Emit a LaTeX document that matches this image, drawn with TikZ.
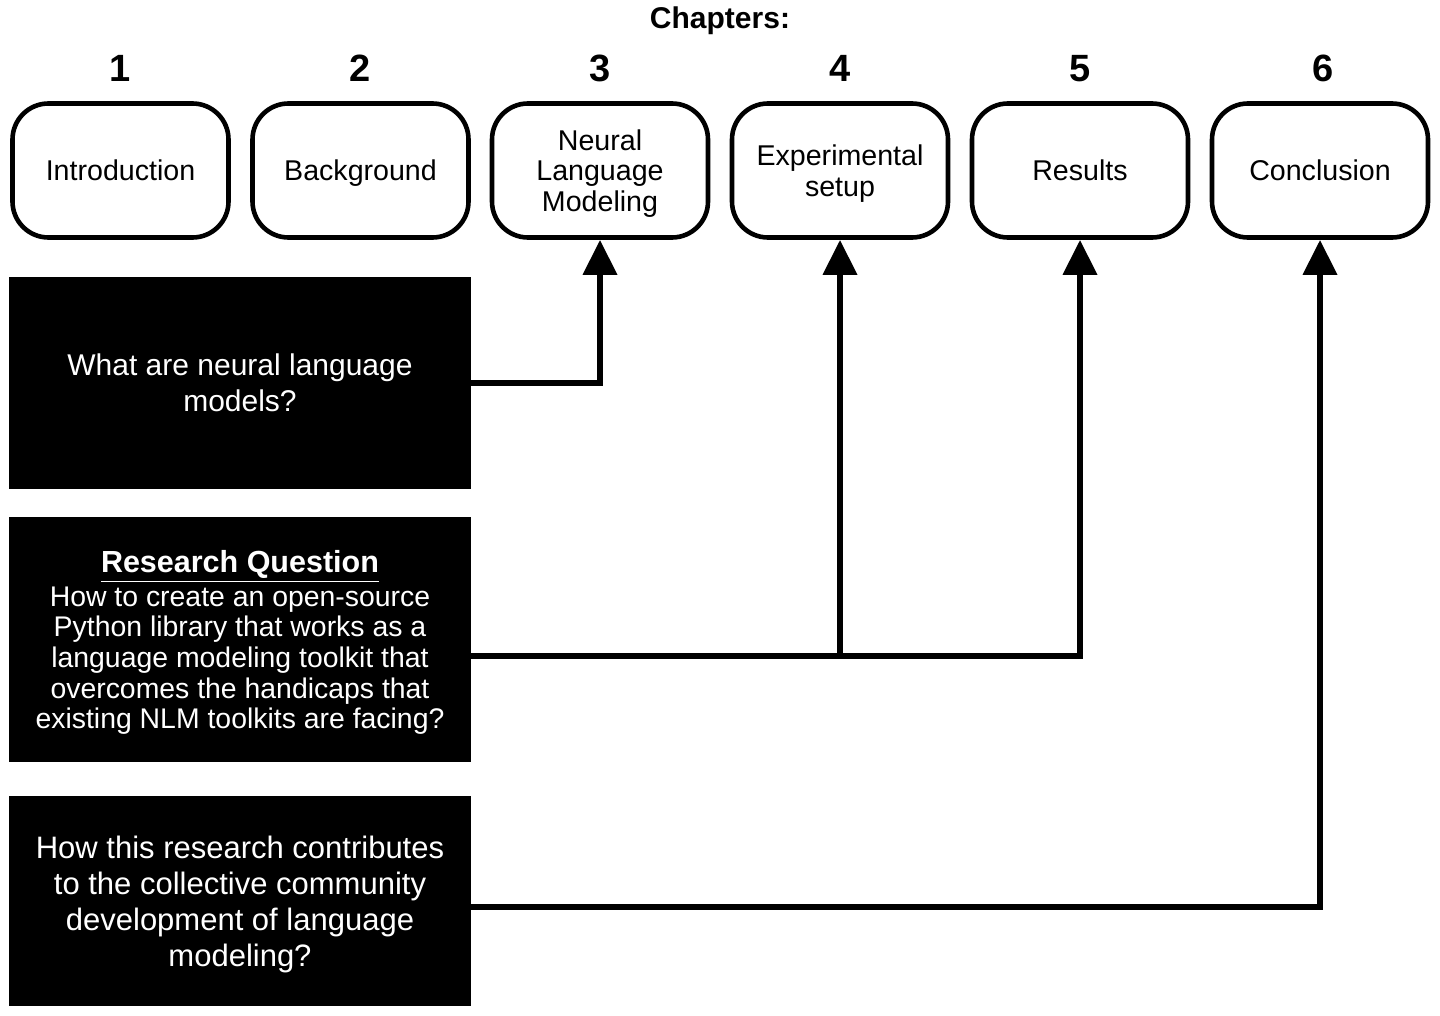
\documentclass[tikz,border=0pt]{standalone}
\usepackage{fontspec}
\setmainfont{Liberation Sans}
\usetikzlibrary{arrows.meta}

\begin{document}
\begin{tikzpicture}[x=0.5pt,y=-0.5pt,
  chapbox/.style={draw, line width=2.3pt, rounded corners=18pt,
    minimum width=108pt, minimum height=67pt, inner sep=0pt,
    align=center, text depth=0pt, font=\fontsize{14.3}{15.3}\selectfont},
  chapnum/.style={anchor=base, font=\bfseries\fontsize{19}{22}\selectfont},
  question/.style={fill=black, text=white, align=center, text depth=0pt,
    minimum width=231pt, inner sep=0pt},
  conn/.style={line width=3.4pt, -{Triangle[length=17.5pt,width=16.5pt]}}]

  \useasboundingbox (0,0) rectangle (1440,1016);

  \node[anchor=base, font=\bfseries\fontsize{15}{18}\selectfont] (title)
  at (720,29) {Chapters:};

  %% chapter numbers
  \node[chapnum] (num1) at (120,81.5) {1};
  \node[chapnum] (num2) at (360,81.5) {2};
  \node[chapnum] (num3) at (600,81.5) {3};
  \node[chapnum] (num4) at (840,81.5) {4};
  \node[chapnum] (num5) at (1080,81.5) {5};
  \node[chapnum] (num6) at (1323,81.5) {6};

  %% chapters
  \node[chapbox] (intro)    at (120.5,170.5) {Introduction};
  \node[chapbox] (backgr)   at (360.5,170.5) {Background};
  \node[chapbox] (nlm)      at (600,170.5)   {Neural\\Language\\Modeling};
  \node[chapbox] (expsetup) at (840,170.5)   {Experimental\\setup};
  \node[chapbox] (results)  at (1080,170.5)  {Results};
  \node[chapbox] (concl)    at (1320,170.5)  {Conclusion};

  %% questions
  \node[question, minimum height=106pt, font=\fontsize{15}{18}\selectfont]
  (nlmq) at (240,383) {What are neural language\\models?};
  \node[question, minimum height=122.5pt, font=\fontsize{14.2}{15.35}\selectfont]
  (rq) at (240,639.5)
  {{\bfseries\fontsize{15.25}{16.5}\selectfont\underline{Research Question}}\\[1.5pt]
   How to create an open-source\\
   Python library that works as a\\
   language modeling toolkit that\\
   overcomes the handicaps that\\
   existing NLM toolkits are facing?};
  \node[question, minimum height=105pt, font=\fontsize{15.5}{18}\selectfont]
  (commq) at (240,901)
  {How this research contributes\\
   to the collective community\\
   development of language\\
   modeling?};

  %% connectors
  \coordinate (rqout) at (471,656);
  \coordinate (commout) at (471,907);
  \draw[conn] (nlmq.east) -| (nlm.south);
  \draw[conn] (rqout) -| (results.south);
  \draw[conn] (rqout -| expsetup.south) -- (expsetup.south);
  \draw[conn] (commout) -| (concl.south);

\end{tikzpicture}
\end{document}
